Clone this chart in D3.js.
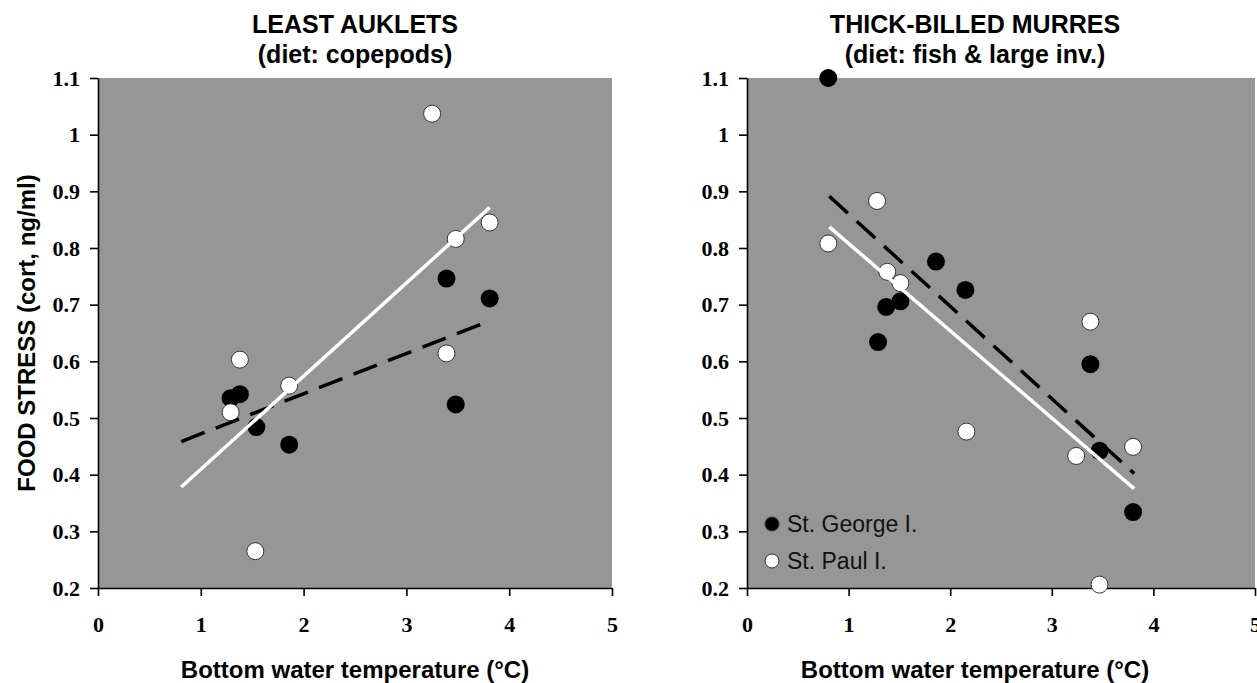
<!DOCTYPE html>
<html>
<head>
<meta charset="utf-8">
<script src="https://cdn.jsdelivr.net/npm/d3@7"></script>
<style>
body{margin:0;background:#fff;}
</style>
</head>
<body>
<div id="chart"></div>
<script>
// tick labels
var xTicks = [0, 1, 2, 3, 4, 5];
var yTicks = [0.2, 0.3, 0.4, 0.5, 0.6, 0.7, 0.8, 0.9, 1.0, 1.1];
var fitRange = [0.81, 3.81]; // x span of the trend lines

// least auklets
var aukGeorgeX = [1.29, 1.38, 1.54, 1.86, 3.39, 3.48, 3.81];
var aukGeorgeY = [0.535, 0.542, 0.484, 0.453, 0.746, 0.524, 0.711];
var aukPaulX = [1.29, 1.38, 1.53, 1.86, 3.25, 3.39, 3.48, 3.81];
var aukPaulY = [0.510, 0.603, 0.265, 0.557, 1.037, 0.614, 0.816, 0.845];

// thick-billed murres
var murGeorgeX = [0.80, 1.29, 1.37, 1.51, 1.86, 2.15, 3.38, 3.47, 3.80];
var murGeorgeY = [1.10, 0.634, 0.696, 0.706, 0.776, 0.726, 0.595, 0.442, 0.334];
var murPaulX = [0.80, 1.28, 1.38, 1.51, 2.16, 3.24, 3.38, 3.47, 3.80];
var murPaulY = [0.808, 0.883, 0.758, 0.738, 0.476, 0.433, 0.670, 0.206, 0.449];

var legendLabels = ["St. George I.", "St. Paul I."];
var xTitle = "Bottom water temperature (\u00b0C)";
var yTitle = "FOOD STRESS (cort, ng/ml)";

var width = 1257,
    height = 683,
    plotTop = 78,
    plotBottom = 588;

var svg = d3.select("#chart").append("svg")
    .attr("width", width)
    .attr("height", height);

// least squares line
function fit(xs, ys){
    var mx = d3.mean(xs), my = d3.mean(ys);
    var sxy = d3.sum(xs, function(d,i){ return (d-mx)*(ys[i]-my); });
    var sxx = d3.sum(xs, function(d){ return (d-mx)*(d-mx); });
    var b = sxy/sxx;
    return function(x){ return my + b*(x-mx); };
}

function panel(left, right, title, titleX, georgeX, georgeY, paulX, paulY, legend){
    var x = d3.scaleLinear().domain([0, 5]).range([left, right]);
    var y = d3.scaleLinear().domain([0.2, 1.1]).range([plotBottom, plotTop]);
    var g = svg.append("g");

    g.append("rect")
        .attr("x", x(0))
        .attr("y", y(1.1))
        .attr("width", x(5)-x(0))
        .attr("height", y(0.2)-y(1.1))
        .attr("fill", "#969696");

    // axes
    var ya = g.append("g")
        .attr("transform", "translate(" + x(0) + ",0)")
        .call(d3.axisLeft(y).tickValues(yTicks).tickSize(8).tickSizeOuter(0).tickPadding(10)
            .tickFormat(function(d){ return String(+d.toFixed(1)); }));
    var xa = g.append("g")
        .attr("transform", "translate(0," + y(0.2) + ")")
        .call(d3.axisBottom(x).tickValues(xTicks).tickSize(8).tickSizeOuter(0).tickPadding(20)
            .tickFormat(d3.format("d")));
    [ya, xa].forEach(function(a){
        a.selectAll("path,line").attr("stroke", "#000").attr("stroke-width", 1.6);
        a.selectAll("text")
            .attr("fill", "#000")
            .style("font-family", "'Liberation Serif', 'Times New Roman', serif")
            .style("font-weight", "bold")
            .style("font-size", "22px");
    });

    // points
    var georgeData = georgeX.map(function(d,i){ return [d, georgeY[i]]; });
    var paulData = paulX.map(function(d,i){ return [d, paulY[i]]; });
    g.selectAll(".george").data(georgeData).enter().append("circle")
        .attr("class", "george")
        .attr("cx", function(d){ return x(d[0]); })
        .attr("cy", function(d){ return y(d[1]); })
        .attr("r", 9)
        .attr("fill", "#000");
    g.selectAll(".paul").data(paulData).enter().append("circle")
        .attr("class", "paul")
        .attr("cx", function(d){ return x(d[0]); })
        .attr("cy", function(d){ return y(d[1]); })
        .attr("r", 8.5)
        .attr("fill", "#fff")
        .attr("stroke", "#333")
        .attr("stroke-width", 1);

    // trend lines
    var fg = fit(georgeX, georgeY), fp = fit(paulX, paulY);
    var line = d3.line()
        .x(function(d){ return x(d[0]); })
        .y(function(d){ return y(d[1]); });
    g.append("path")
        .attr("d", line(fitRange.map(function(v){ return [v, fg(v)]; })))
        .attr("stroke", "#000")
        .attr("stroke-width", 3.5)
        .attr("stroke-dasharray", "25,12")
        .attr("fill", "none");
    g.append("path")
        .attr("d", line(fitRange.map(function(v){ return [v, fp(v)]; })))
        .attr("stroke", "#fff")
        .attr("stroke-width", 3.5)
        .attr("fill", "none");

    // titles
    g.selectAll(".title").data(title).enter().append("text")
        .attr("x", titleX)
        .attr("y", function(d,i){ return 33 + i*30; })
        .attr("text-anchor", "middle")
        .style("font-family", "'Liberation Sans', Arial, sans-serif")
        .style("font-weight", "bold")
        .style("font-size", "25px")
        .text(function(d){ return d; });
    g.append("text")
        .attr("x", titleX)
        .attr("y", 678)
        .attr("text-anchor", "middle")
        .style("font-family", "'Liberation Sans', Arial, sans-serif")
        .style("font-weight", "bold")
        .style("font-size", "24px")
        .text(xTitle);

    if(legend){
        var lg = g.selectAll(".legend").data(legendLabels).enter().append("g")
            .attr("class", "legend")
            .attr("transform", function(d,i){ return "translate(" + (x(0)+25) + "," + (524 + i*37) + ")"; });
        lg.append("circle")
            .attr("r", 7)
            .attr("fill", function(d,i){ return i ? "#fff" : "#000"; })
            .attr("stroke", "#333")
            .attr("stroke-width", 1);
        lg.append("text")
            .attr("x", 15)
            .attr("y", 8)
            .attr("fill", "#111")
            .style("font-family", "'Liberation Sans', Arial, sans-serif")
            .style("font-size", "23px")
            .text(function(d){ return d; });
    }
}

panel(98, 612, ["LEAST AUKLETS", "(diet: copepods)"], 355, aukGeorgeX, aukGeorgeY, aukPaulX, aukPaulY, false);
panel(747, 1255, ["THICK-BILLED MURRES", "(diet: fish & large inv.)"], 975, murGeorgeX, murGeorgeY, murPaulX, murPaulY, true);

// y axis title
svg.append("text")
    .attr("transform", "translate(35," + ((plotTop+plotBottom)/2) + ") rotate(-90)")
    .attr("text-anchor", "middle")
    .style("font-family", "'Liberation Sans', Arial, sans-serif")
    .style("font-weight", "bold")
    .style("font-size", "24px")
    .text(yTitle);
</script>
</body>
</html>
